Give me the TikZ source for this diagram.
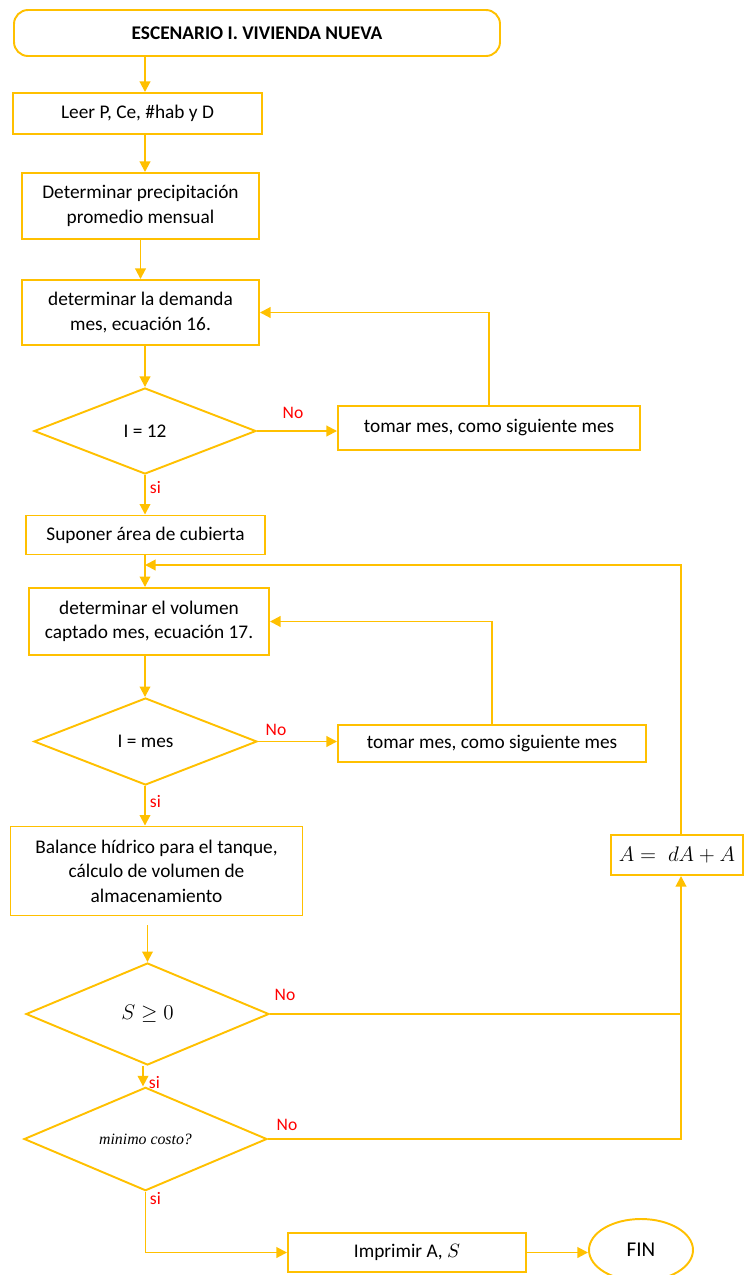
\documentclass[tikz,border=0pt]{standalone}
\usepackage{fontspec}
\setmainfont{Carlito}
\newfontfamily\serifit{Liberation Serif}
\usepackage{amsmath}
\usetikzlibrary{shapes.geometric, arrows.meta, positioning, calc}
\definecolor{oro}{HTML}{FFC000}
\definecolor{rojo}{HTML}{FF0000}
\def\pxu{0.02cm}

\begin{document}
\begin{tikzpicture}[x=0.02cm, y=-0.02cm, line width=1.1pt,
	caja/.style={draw=oro, rectangle, align=center, inner sep=2pt, font=\fontsize{11}{14}\selectfont},
	decision/.style={draw=oro, diamond, inner sep=0pt, font=\fontsize{11}{14}\selectfont},
	flecha/.style={draw=oro, -{Triangle[width=6pt,length=6pt]}},
	linea/.style={draw=oro},
	etiq/.style={text=rojo, font=\fontsize{10}{11}\selectfont, inner sep=0pt}]
	\useasboundingbox (0,0) rectangle (745,1275);
	%% columna principal y columna de retorno
	\coordinate (eje) at (145,0);
	\coordinate (colA) at (681,0);

	\node[caja, rounded corners=8pt, minimum width=486*\pxu, minimum height=46*\pxu, font=\bfseries\fontsize{11}{14}\selectfont] (titulo) at (257,33) {ESCENARIO I. VIVIENDA NUEVA};
	\node[caja, minimum width=249*\pxu, minimum height=41*\pxu] (leer) at (137.5,113.5) {Leer P, Ce, \#hab y D};
	\node[caja, minimum width=237*\pxu, minimum height=66*\pxu] (precip) at (140.5,206) {Determinar precipitación\\promedio mensual};
	\node[caja, minimum width=237*\pxu, minimum height=65*\pxu] (demanda) at (140.5,312.5) {determinar la demanda\\mes, ecuación 16.};
	\node[decision, minimum width=222*\pxu, minimum height=86*\pxu] (d1) at (145,431) {I = 12};
	\node[caja, minimum width=302*\pxu, minimum height=44*\pxu] (tomar1) at (489,428) {tomar mes, como siguiente mes};
	\node[caja, minimum width=239*\pxu, minimum height=39*\pxu] (suponer) at (145.5,535) {Suponer área de cubierta};
	\node[caja, minimum width=240*\pxu, minimum height=67*\pxu] (volumen) at (149,621.5) {determinar el volumen\\captado mes, ecuación 17.};
	\node[decision, minimum width=223*\pxu, minimum height=87*\pxu] (d2) at (145.5,741.5) {I = mes};
	\node[caja, minimum width=308*\pxu, minimum height=37*\pxu] (tomar2) at (492,743.5) {tomar mes, como siguiente mes};
	\node[caja, minimum width=292*\pxu, minimum height=89*\pxu] (balance) at (156.5,871) {Balance hídrico para el tanque,\\cálculo de volumen de\\almacenamiento};
	\node[caja, minimum width=132*\pxu, minimum height=40*\pxu, font=\fontsize{12}{14}\selectfont] (abox) at (677,855) {$A =\; dA + A$};
	\node[decision, minimum width=243*\pxu, minimum height=102*\pxu, font=\large] (d3) at (147.5,1014) {$S \geq 0$};
	\node[decision, minimum width=243*\pxu, minimum height=66*\pxu, font=\serifit\itshape\fontsize{9}{10}\selectfont] (d4) at (145.5,1139) {minimo costo?};
	\node[caja, minimum width=238*\pxu, minimum height=39*\pxu] (imprimir) at (407,1252.5) {Imprimir A, $S$};
	\node[draw=oro, ellipse, minimum width=104*\pxu, minimum height=62*\pxu, font=\fontsize{12}{14}\selectfont] (fin) at (641,1250) {FIN};

	\coordinate (junta) at (145,565);

	\draw[flecha] (titulo.south -| eje) -- (leer.north -| eje);
	\draw[flecha] (leer.south -| eje) -- (precip.north -| eje);
	\draw[flecha] (precip.south) -- (demanda.north);
	\draw[flecha] (demanda.south -| eje) -- (d1.north);
	\draw[flecha] (d1.east) -- (d1.east -| tomar1.west);
	\draw[flecha] (tomar1.north) |- (demanda.east);
	\draw[flecha] (d1.south) -- (suponer.north -| d1);
	\draw[linea] (suponer.south -| eje) -- (junta);
	\draw[flecha] (junta) -- (volumen.north -| eje);
	\draw[flecha] (abox.north -| colA) |- (junta);
	\draw[flecha] (volumen.south -| eje) -- (d2.north -| eje);
	\draw[flecha] (d2.east) -- (d2.east -| tomar2.west);
	\draw[flecha] (tomar2.north) |- (volumen.east);
	\draw[flecha] (d2.south -| eje) -- (balance.north -| eje);
	\draw[flecha, shorten <=9*\pxu] (balance.south -| d3) -- (d3.north);
	\draw[flecha] (d3.east) -| (abox.south -| colA);
	\draw[linea] (d4.east) -| (d3.east -| colA);
	\draw[flecha] (d3.south -| 143,0) -- (d4.north -| 143,0);
	\draw[flecha] (d4.south) |- (imprimir.west);
	\draw[flecha] (imprimir.east) -- (imprimir.east -| fin.west);

	\node[etiq] (no1) at (293,413) {No};
	\node[etiq, anchor=west] (si1) at (149,488) {si};
	\node[etiq] (no2) at (276,730) {No};
	\node[etiq, anchor=west] (si2) at (149,802) {si};
	\node[etiq] (no3) at (285,995) {No};
	\node[etiq, anchor=west] (si3) at (148,1083) {si};
	\node[etiq] (no4) at (287,1125) {No};
	\node[etiq, anchor=west] (si4) at (149,1199) {si};
\end{tikzpicture}
\end{document}
